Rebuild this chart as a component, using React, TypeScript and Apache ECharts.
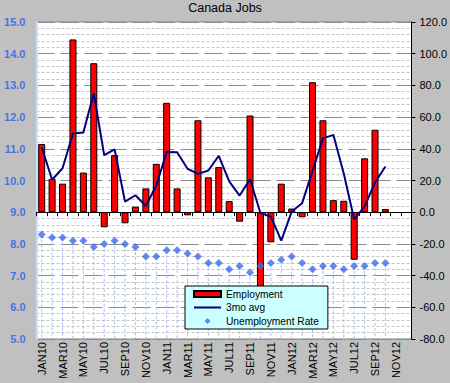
import React, { useEffect, useRef } from "react";
import * as echarts from "echarts";

const categories = [
  "JAN10", "FEB10", "MAR10", "APR10", "MAY10", "JUN10", "JUL10", "AUG10", "SEP10", "OCT10", "NOV10", "DEC10",
  "JAN11", "FEB11", "MAR11", "APR11", "MAY11", "JUN11", "JUL11", "AUG11", "SEP11", "OCT11", "NOV11", "DEC11",
  "JAN12", "FEB12", "MAR12", "APR12", "MAY12", "JUN12", "JUL12", "AUG12", "SEP12", "OCT12", "NOV12", "DEC12",
];

const employment = [
  43, 21, 18, 109, 25, 94, -9.5, 36, -7, 3.5, 15, 30.5,
  69, 15, -2, 58, 22, 28.5, 7, -6, 61, -54, -19, 18,
  2.3, -3.2, 82, 58, 7.6, 7.2, -30, 34, 52, 2,
];

const avg3mo = [
  41, 20.5, 27.7, 49.6, 50.3, 75, 36, 39.6, 6.7, 10.7, 3.9, 16.8,
  38, 37.8, 27.4, 24.2, 26.3, 35.6, 19.5, 10.5, 20.8, -0.5, -2.8, -17.9,
  0.4, 5.7, 26, 46.6, 48.8, 24.4, -4.6, 3.7, 18.7, 28.8,
];

const unemployment = [
  8.3, 8.2, 8.2, 8.1, 8.1, 7.9, 8.0, 8.1, 8.0, 7.9, 7.6, 7.6,
  7.8, 7.8, 7.7, 7.6, 7.4, 7.4, 7.2, 7.3, 7.1, 7.3, 7.4, 7.5,
  7.6, 7.4, 7.2, 7.3, 7.3, 7.2, 7.3, 7.3, 7.4, 7.4,
];

const FONT = "Liberation Sans, Arial, sans-serif";

export default function App() {
  const ref = useRef<HTMLDivElement>(null);

  useEffect(() => {
    if (!ref.current) return;
    const chart = echarts.init(ref.current, undefined, { renderer: "svg" });
    const option: any = {
      animation: false,
      backgroundColor: "#C0C0C0",
      textStyle: { fontFamily: FONT },
      title: {
        text: "Canada Jobs",
        left: "center",
        top: 1,
        padding: 0,
        textStyle: { fontSize: 12.5, fontWeight: "normal", color: "#000", fontFamily: FONT },
      },
      grid: {
        left: 36.5,
        right: 36.5,
        top: 22,
        bottom: 44,
        show: true,
        backgroundColor: "#FFFFFF",
        borderColor: "#808080",
        borderWidth: 1,
      },
      legend: {
        orient: "vertical",
        left: 185,
        top: 286,
        padding: [3, 9, 3, 8],
        itemGap: 3.5,
        itemWidth: 27,
        itemHeight: 6,
        backgroundColor: "#CCFFFF",
        borderColor: "#000",
        borderWidth: 1,
        borderRadius: 0,
        textStyle: { fontSize: 10.2, color: "#000", fontFamily: FONT },
        data: [
          { name: "Employment", icon: "rect" },
          { name: "3mo avg", icon: "path://M0,0H27V2H0Z" },
          { name: "Unemployment Rate", icon: "path://M0,-1L1,0L0,1L-1,0Z" },
        ],
      },
      xAxis: [
        {
          type: "category",
          data: categories,
          position: "bottom",
          axisLine: { show: false, onZero: false },
          axisTick: { show: false },
          axisLabel: {
            interval: 1,
            rotate: 90,
            margin: 3,
            fontSize: 11,
            color: "#000",
            fontFamily: FONT,
          },
          splitLine: { show: false },
        },
        {
          type: "category",
          data: categories,
          position: "bottom",
          axisLine: { show: true, onZero: true, onZeroAxisIndex: 1, lineStyle: { color: "#000", width: 1 } },
          axisTick: { show: true, inside: false, length: 4, interval: 0, lineStyle: { color: "#000" } },
          axisLabel: { show: false },
          splitLine: { show: false },
        },
      ],
      yAxis: [
        {
          type: "value",
          position: "left",
          min: 5,
          max: 15,
          interval: 1,
          axisLine: { show: true, lineStyle: { color: "#C6E2FF", width: 2 } },
          axisTick: { show: false },
          axisLabel: {
            formatter: (v: number) => v.toFixed(1),
            color: "#4A72E3",
            fontWeight: "bold",
            fontSize: 11,
            margin: 11,
            fontFamily: FONT,
          },
          splitLine: { show: false },
        },
        {
          type: "value",
          position: "right",
          min: -80,
          max: 120,
          interval: 20,
          axisLine: { show: true, lineStyle: { color: "#000", width: 1 } },
          axisTick: { show: true, inside: false, length: 4, lineStyle: { color: "#000" } },
          axisLabel: {
            formatter: (v: number) => v.toFixed(1),
            color: "#000",
            fontSize: 11,
            margin: 8,
            fontFamily: FONT,
          },
          splitLine: { show: true, lineStyle: { color: "#8C8C8C", width: 1, type: [18, 6] } },
          minorTick: { show: false, splitNumber: 5 },
          minorSplitLine: { show: true, lineStyle: { color: "#C4C4C4", width: 1, type: [3, 2] } },
        },
      ],
      series: [
        {
          type: "custom",
          xAxisIndex: 0,
          yAxisIndex: 0,
          silent: true,
          z: 1,
          encode: { x: 0, y: 1 },
          data: unemployment.map((v, i) => [i, v]),
          renderItem: (params: any, api: any) => {
            const v = api.value(1);
            const p1 = api.coord([api.value(0), v]);
            const p2 = api.coord([api.value(0), 5]);
            return {
              type: "line",
              shape: { x1: p1[0], y1: p1[1], x2: p2[0], y2: p2[1] },
              style: { stroke: "#A8C3F0", lineWidth: 1, lineDash: [3, 2] },
            };
          },
        },
        {
          name: "Employment",
          type: "bar",
          xAxisIndex: 0,
          yAxisIndex: 1,
          data: employment,
          barWidth: 7,
          z: 2,
          itemStyle: { color: "#FF0000", borderColor: "#000", borderWidth: 1 },
        },
        {
          name: "3mo avg",
          type: "line",
          xAxisIndex: 0,
          yAxisIndex: 1,
          data: avg3mo,
          symbol: "none",
          showSymbol: false,
          z: 3,
          lineStyle: { color: "#000080", width: 2 },
          itemStyle: { color: "#000080" },
        },
        {
          name: "Unemployment Rate",
          type: "scatter",
          xAxisIndex: 0,
          yAxisIndex: 0,
          data: unemployment,
          symbol: "diamond",
          symbolSize: 8,
          z: 4,
          itemStyle: { color: "#3D6DEB" },
        },
      ],
    };
    chart.setOption(option);
    return () => chart.dispose();
  }, []);

  return (
    <div
      ref={ref}
      style={{ position: "fixed", left: 0, top: 0, width: 450, height: 383 }}
    />
  );
}
